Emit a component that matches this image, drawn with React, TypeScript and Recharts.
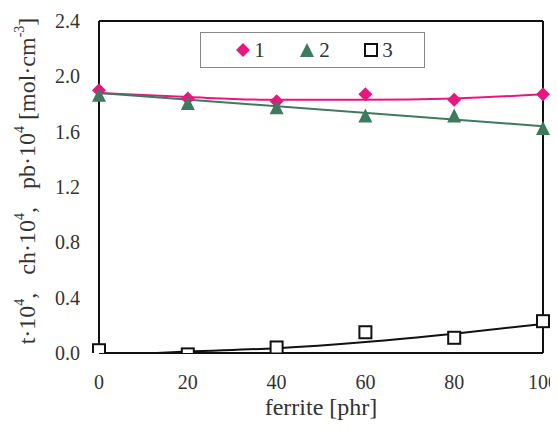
import {
  ComposedChart,
  Line,
  ReferenceLine,
  Scatter,
  XAxis,
  YAxis,
} from "recharts";

const ferrite = [0, 20, 40, 60, 80, 100];
const pbPoints = [1.9, 1.84, 1.82, 1.87, 1.83, 1.87];
const chPoints = [1.86, 1.8, 1.77, 1.71, 1.71, 1.62];
const tPoints = [0.02, -0.01, 0.04, 0.15, 0.11, 0.23];

const pbFitX = [0, 20, 40, 60, 80, 100];
const pbFit = [1.88, 1.85, 1.83, 1.83, 1.84, 1.87];
const chFitX = [0, 100];
const chFit = [1.88, 1.64];
const tFitX = [13, 20, 40, 60, 80, 100];
const tFit = [0.0, 0.01, 0.035, 0.08, 0.14, 0.21];

const xTicks = [0, 20, 40, 60, 80, 100];
const yTicks = [0, 0.4, 0.8, 1.2, 1.6, 2.0, 2.4];

const PINK = "#e8177f";
const GREEN = "#3e7a5e";
const FONT = "'Liberation Serif', 'Times New Roman', serif";

const pair = (xs: number[], ys: number[]) => xs.map((x, i) => ({ x, y: ys[i] }));

const pbData = pair(ferrite, pbPoints);
const chData = pair(ferrite, chPoints);
const tData = pair(ferrite, tPoints);

const Diamond = (p: any) => (
  <polygon
    points={`${p.cx},${p.cy - 7} ${p.cx + 7},${p.cy} ${p.cx},${p.cy + 7} ${p.cx - 7},${p.cy}`}
    fill={PINK}
  />
);
const Triangle = (p: any) => (
  <polygon
    points={`${p.cx},${p.cy - 8} ${p.cx + 7},${p.cy + 6} ${p.cx - 7},${p.cy + 6}`}
    fill={GREEN}
  />
);
const Square = (p: any) => (
  <rect x={p.cx - 6} y={p.cy - 6} width={12} height={12} fill="#fff" stroke="#111" strokeWidth={2} />
);

const gap = "\u00a0\u00a0\u00a0";

function YLabel(props: any) {
  const vb = props.viewBox || {};
  const cx = 27;
  const cy = vb.y + vb.height / 2 - 6;
  const sup = { fontSize: 14, baselineShift: "super" } as any;
  return (
    <text
      x={cx}
      y={cy}
      transform={`rotate(-90, ${cx}, ${cy})`}
      textAnchor="middle"
      dominantBaseline="central"
      fontFamily={FONT}
      fontSize={24}
      fill="#333"
    >
      t·10<tspan style={sup}>4</tspan>,{gap}ch·10<tspan style={sup}>4</tspan>,{gap}pb·10
      <tspan style={sup}>4</tspan> [mol·cm<tspan style={sup}>-3</tspan>]
    </text>
  );
}

function XLabel(props: any) {
  const vb = props.viewBox || {};
  return (
    <text
      x={vb.x + vb.width / 2}
      y={vb.y + 62}
      textAnchor="middle"
      fontFamily={FONT}
      fontSize={24}
      fill="#333"
    >
      ferrite [phr]
    </text>
  );
}

function LegendBox() {
  const item = { display: "flex", alignItems: "center", gap: 4 } as const;
  return (
    <div
      style={{
        position: "absolute",
        left: 200,
        top: 32,
        width: 225,
        height: 36,
        border: "1px solid #888",
        background: "#fff",
        display: "flex",
        alignItems: "center",
        justifyContent: "space-around",
        fontFamily: FONT,
        fontSize: 21,
        color: "#333",
        boxSizing: "border-box",
        padding: "0 14px 0 18px",
      }}
    >
      <span style={item}>
        <svg width={14} height={14}>
          <polygon points="7,0 14,7 7,14 0,7" fill={PINK} />
        </svg>
        1
      </span>
      <span style={item}>
        <svg width={16} height={16}>
          <polygon points="8,1 15,15 1,15" fill={GREEN} />
        </svg>
        2
      </span>
      <span style={item}>
        <svg width={14} height={14}>
          <rect x={1} y={1} width={12} height={12} fill="#fff" stroke="#111" strokeWidth={2} />
        </svg>
        3
      </span>
    </div>
  );
}

export default function App() {
  const tick = { fontSize: 20, fill: "#333", fontFamily: FONT };
  return (
    <div style={{ margin: -8, width: 558, height: 429, background: "#fff", position: "relative", fontFamily: FONT }}>
      <ComposedChart
        width={558}
        height={429}
        margin={{ top: 21, right: 15, left: 39, bottom: 36 }}
      >
        <XAxis
          type="number"
          dataKey="x"
          domain={[0, 100]}
          ticks={xTicks}
          tick={tick}
          tickLine={false}
          tickSize={0}
          tickMargin={22}
          height={40}
          axisLine={{ stroke: "#111", strokeWidth: 2 }}
          label={<XLabel />}
        />
        <YAxis
          type="number"
          domain={[0, 2.4]}
          ticks={yTicks}
          allowDataOverflow
          tickFormatter={(v: number) => v.toFixed(1)}
          tick={tick}
          tickLine={false}
          tickSize={0}
          tickMargin={19}
          width={60}
          axisLine={{ stroke: "#111", strokeWidth: 2 }}
          label={<YLabel />}
        />
        <ReferenceLine y={2.4} stroke="#111" strokeWidth={2} />
        <ReferenceLine x={100} stroke="#111" strokeWidth={2} />
        <Line
          data={pair(pbFitX, pbFit)}
          dataKey="y"
          type="monotone"
          stroke={PINK}
          strokeWidth={2}
          dot={false}
          isAnimationActive={false}
        />
        <Line
          data={pair(chFitX, chFit)}
          dataKey="y"
          type="linear"
          stroke={GREEN}
          strokeWidth={2}
          dot={false}
          isAnimationActive={false}
        />
        <Line
          data={pair(tFitX, tFit)}
          dataKey="y"
          type="monotone"
          stroke="#111"
          strokeWidth={2}
          dot={false}
          isAnimationActive={false}
        />
        <Scatter data={pbData} dataKey="y" shape={Diamond} isAnimationActive={false} />
        <Scatter data={chData} dataKey="y" shape={Triangle} isAnimationActive={false} />
        <Scatter data={tData} dataKey="y" shape={Square} isAnimationActive={false} />
      </ComposedChart>
      <LegendBox />
    </div>
  );
}
